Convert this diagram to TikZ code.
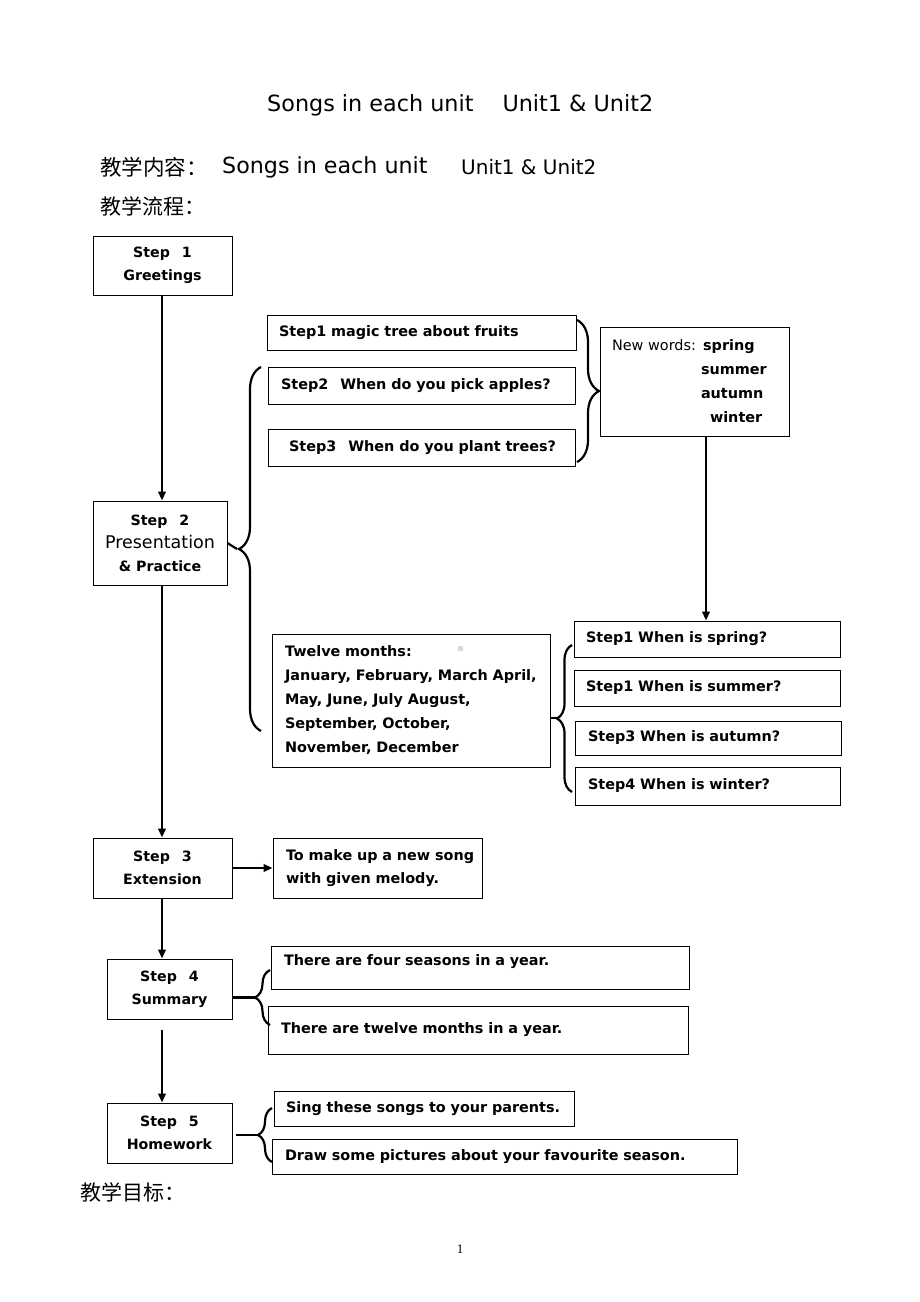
\documentclass[tikz,border=0pt]{standalone}
\usepackage{fontspec}
\setmainfont{DejaVu Sans}
\newfontfamily\cjk{Noto Sans CJK SC}
\newfontfamily\pgnum{Liberation Serif}
\usetikzlibrary{decorations.pathreplacing,arrows.meta}
\begin{document}
\begin{tikzpicture}[x=1pt,y=-1pt,
  bx/.style={draw, line width=0.9pt, inner ysep=0pt, align=left, font=\fontsize{14.4}{24}\selectfont\bfseries},
  stp/.style={draw, line width=0.9pt, inner sep=0pt, align=center, font=\fontsize{14.2}{23}\selectfont\bfseries},
  arr/.style={line width=2.2pt, -{Triangle[length=9pt,width=7.5pt]}},
  ln/.style={line width=2.2pt},
  brc/.style={line width=2.2pt, decorate, decoration={brace, amplitude=#1}},
  lbl/.style={anchor=west, inner sep=0pt}
]
\fill[white] (0,0) rectangle (920,1302);
\useasboundingbox (0,0) rectangle (920,1302);

% headings
\node[lbl, font=\fontsize{22.3}{24}\selectfont] (title) at (267,105) {Songs in each unit\hspace{29pt}Unit1 \& Unit2};
\node[lbl, font=\fontsize{21.5}{24}\selectfont\cjk] (h1) at (100,167) {教学内容：};
\node[lbl, font=\fontsize{22.2}{24}\selectfont] (h1a) at (222,167) {Songs in each unit};
\node[lbl, font=\fontsize{20}{24}\selectfont] (h1b) at (461,167) {Unit1 \& Unit2};
\node[lbl, font=\fontsize{21}{24}\selectfont\cjk] (h2) at (100,206) {教学流程：};
\node[lbl, font=\fontsize{21}{24}\selectfont\cjk] (h3) at (80,1192) {教学目标：};
\node[inner sep=0pt, font=\fontsize{13}{14}\selectfont\pgnum] (pg) at (460,1249) {1};

% step boxes
\node[stp, minimum width=139pt, minimum height=59pt] (s1) at (162.5,265.5) {Step\hspace{12pt}1\\Greetings};
\node[stp, minimum width=134pt, minimum height=84pt] (s2) at (160,543) {Step\hspace{12pt}2\\{\mdseries\fontsize{17.5}{23}\selectfont Presentation}\\\& Practice};
\node[stp, minimum width=139pt, minimum height=60pt] (s3) at (162.5,868) {Step\hspace{12pt}3\\Extension};
\node[stp, minimum width=125pt, minimum height=60pt] (s4) at (169.5,989) {Step\hspace{12pt}4\\Summary};
\node[stp, minimum width=125pt, minimum height=60pt] (s5) at (169.5,1133) {Step\hspace{12pt}5\\Homework};

% step 2 sub boxes
\node[bx, minimum height=35pt, inner xsep=12pt, text width=285pt] (a1) at (421.5,332.5) {Step1 magic tree about fruits};
\node[bx, minimum height=37pt, inner xsep=13pt, text width=281pt] (a2) at (421.5,385.5) {Step2\hspace{12pt}When do you pick apples?};
\node[bx, minimum height=37pt, inner xsep=13pt, text width=281pt] (a3) at (421.5,447.5) {\hspace*{8pt}Step3\hspace{12pt}When do you plant trees?};
\node[bx, minimum height=109pt, minimum width=189pt, inner xsep=12pt, text width=165pt, font=\fontsize{14.4}{24}\selectfont] (nw) at (694.5,381.5)
  {New words: {\bfseries spring}\\\hspace*{89pt}{\bfseries summer}\\\hspace*{89pt}{\bfseries autumn}\\\hspace*{98pt}{\bfseries winter}};
\node[bx, minimum height=133pt, inner xsep=13pt, text width=252pt] (tm) at (411,700.5)
  {Twelve months:\\January, February, March April,\\May, June, July August,\\September, October,\\November, December};
\fill[gray!30] (458,646) rectangle (463,651);
\node[bx, minimum height=36pt, inner xsep=12pt, text width=242pt] (q1) at (707,639) {Step1 When is spring?};
\node[bx, minimum height=36pt, inner xsep=12pt, text width=242pt] (q2) at (707,688) {Step1 When is summer?};
\node[bx, minimum height=34pt, inner xsep=13pt, text width=240pt] (q3) at (708,738) {Step3 When is autumn?};
\node[bx, minimum height=38pt, inner xsep=13pt, text width=239pt] (q4) at (707.5,786) {Step4 When is winter?};

% step 3..5 boxes
\node[bx, minimum height=60pt, inner xsep=6pt, text width=197pt, font=\fontsize{14.4}{23}\selectfont\bfseries] (ext) at (377.5,868) {\hspace*{7pt}To make up a new song\\\hspace*{7pt}with given melody.};
\node[bx, minimum height=43pt, inner xsep=13pt, text width=392pt] (f1) at (480,967.5) {There are four seasons in a year.\vphantom{\rule{0pt}{16pt}}\\[-4pt]\mbox{}};
\node[bx, minimum height=48pt, inner xsep=13pt, text width=394pt] (f2) at (478,1030) {There are twelve months in a year.};
\node[bx, minimum height=35pt, inner xsep=12pt, text width=276pt] (k1) at (424,1108.5) {Sing these songs to your parents.};
\node[bx, minimum height=35pt, inner xsep=13pt, text width=439pt] (k2) at (504.5,1156.5) {Draw some pictures about your favourite season.};

% brace anchor coordinates
\coordinate (b1t) at (261,367);
\coordinate (b1b) at (261,731);
\coordinate (b2t) at (577,320);
\coordinate (b2b) at (577,462);
\coordinate (b3t) at (572,645);
\coordinate (b3b) at (572,792);
\coordinate (b4t) at (270,970);
\coordinate (b4b) at (270,1025);
\coordinate (b5t) at (272,1108);
\coordinate (b5b) at (272,1162);
\coordinate (b1tip) at (237,549);
\coordinate (b3tip) at (557,718);
\coordinate (b4tip) at (255,997.5);
\coordinate (b5tip) at (257,1135);

% connectors
\draw[arr] (s1.south -| 162,0) -- (162,0 |- s2.north);
\draw[arr] (162,0 |- s2.south) -- (162,0 |- s3.north);
\draw[arr] (s3.east) -- (ext.west);
\draw[arr] (162,0 |- s3.south) -- (162,0 |- s4.north);
\draw[arr] ([yshift=-11pt]s4.south -| 162,0) -- (162,0 |- s5.north);
\draw[arr] (706,0 |- nw.south) -- (706,0 |- q1.north);

% braces
\draw[brc=22pt] (b1b) -- (b1t);
\draw[ln] (s2.east) -- (b1tip);
\draw[brc=22pt] (b2t) -- (b2b);
\draw[brc=15pt] (b3b) -- (b3t);
\draw[ln] (tm.east |- b3tip) -- (b3tip);
\draw[brc=15pt] (b4b) -- (b4t);
\draw[ln] (s4.east |- b4tip) -- (b4tip);
\draw[brc=14pt] (b5b) -- (b5t);
\draw[ln] ([xshift=4pt]s5.east |- b5tip) -- (b5tip);
\end{tikzpicture}
\end{document}
